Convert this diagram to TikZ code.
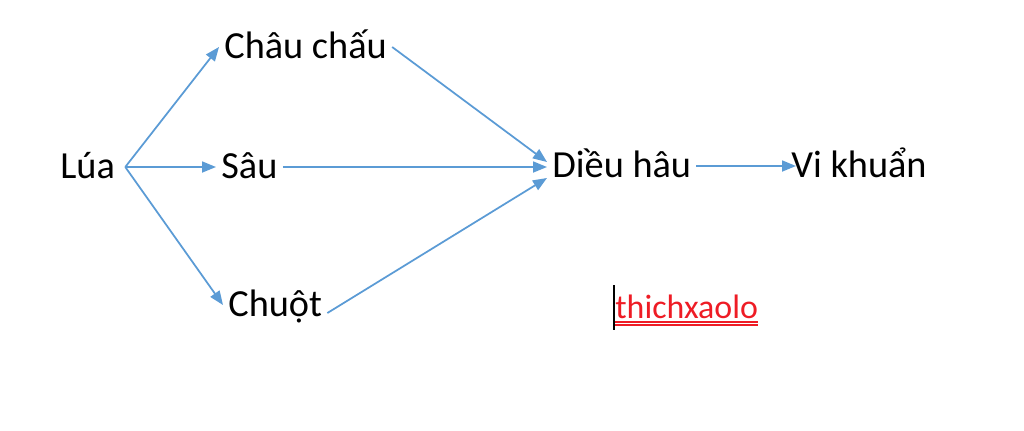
\documentclass[tikz,border=0pt]{standalone}
\usepackage{fontspec}
\setmainfont{Carlito}
\usetikzlibrary{arrows.meta}
\definecolor{linkblue}{HTML}{5B9BD5}
\definecolor{markred}{HTML}{EE1C25}

\begin{document}
\begin{tikzpicture}[
        x=0.02cm, y=-0.02cm,
        food-node/.style={anchor=base west, inner xsep=0.1cm, inner ysep=0pt,
            text height=0.44cm, text depth=0pt, font=\fontsize{21.8}{26}\selectfont},
        link/.style={draw=linkblue, line width=0.035cm,
            -{Triangle[length=0.28cm, width=0.22cm, fill=linkblue]}},
        note-node/.style={anchor=base west, inner sep=0pt, text=markred,
            font=\fontsize{19.3}{23}\selectfont}
    ]
        \useasboundingbox (0,0) rectangle (1024,430);

        \node[food-node] (lua)   at (55, 178)  {Lúa};

        \node[food-node] (chau)  at (219, 58)  {Châu chấu};
        \node[food-node] (sau)   at (216, 178) {Sâu};
        \node[food-node] (chuot) at (223, 316) {Chuột};

        \node[food-node] (dieu)  at (547, 177) {Diều hâu};
        \node[food-node, inner xsep=0pt] (vi) at (791, 177) {Vi khuẩn};

        \node[note-node] (xao) at (615, 318) {thichxaolo};

        \coordinate (fork) at ([xshift=0.1cm]lua.east);

        \draw[link] (fork) -- (chau.west);
        \draw[link] (fork) -- (sau.west);
        \draw[link] (fork) -- (chuot.west);
        \draw[link] (chau.east) -- ([yshift=0.08cm]dieu.west);
        \draw[link] (sau.east) -- (sau.east -| dieu.west);
        \draw[link] ([yshift=-0.16cm]chuot.east) -- ([yshift=-0.24cm]dieu.west);
        \draw[link] (dieu.east) -- ([xshift=0.1cm]vi.west);

        % double underline and cursor
        \draw[markred, line width=0.025cm] ([yshift=-0.08cm]xao.base west) -- ([yshift=-0.08cm]xao.base east);
        \draw[markred, line width=0.025cm] ([yshift=-0.14cm]xao.base west) -- ([yshift=-0.14cm]xao.base east);
        \draw[black, line width=0.03cm] (614, 285) -- (614, 330);
    \end{tikzpicture}
\end{document}
